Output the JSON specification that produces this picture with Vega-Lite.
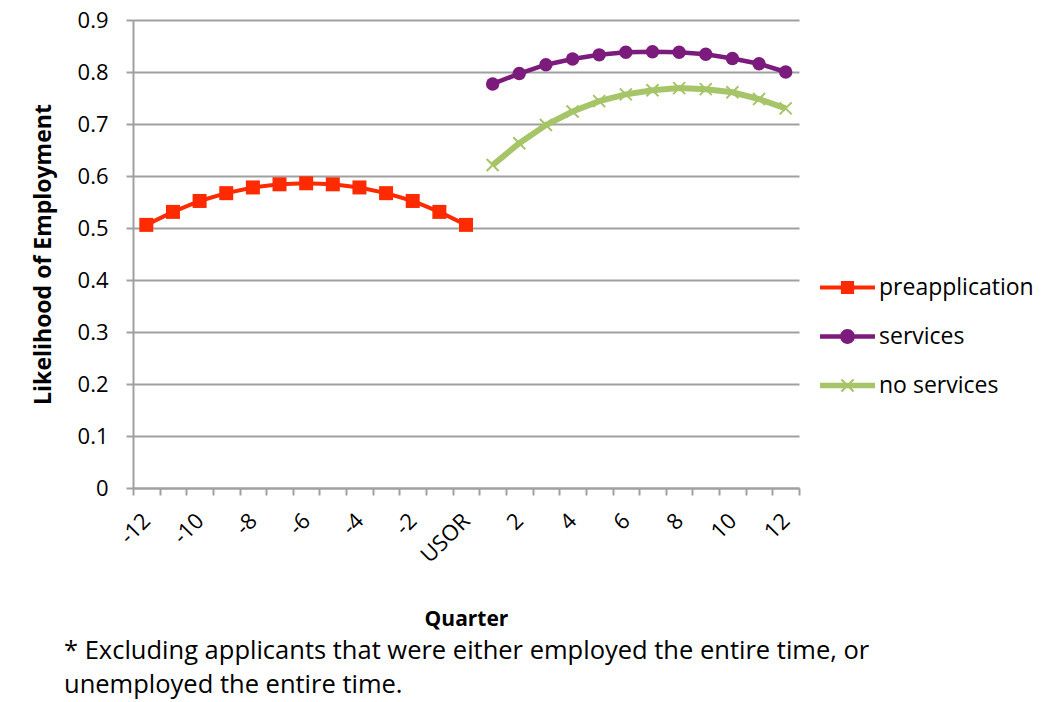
{
  "$schema": "https://vega.github.io/schema/vega-lite/v6.json",
  "width": 666,
  "height": 468,
  "autosize": {"type": "none"},
  "padding": {"left": 133, "top": 20, "right": 259, "bottom": 214},
  "background": "white",
  "config": {"font": "Open Sans", "view": {"stroke": null}},
  "title": {
    "text": ["* Excluding applicants that were either employed the entire time, or", "unemployed the entire time."],
    "orient": "bottom",
    "anchor": "start",
    "frame": "group",
    "fontSize": 25.5,
    "fontWeight": "normal",
    "color": "black",
    "lineHeight": 34,
    "dx": -69,
    "offset": 10
  },
  "data": {
    "values": [
      {"q": "-12", "series": "preapplication", "v": 0.506},
      {"q": "-11", "series": "preapplication", "v": 0.531},
      {"q": "-10", "series": "preapplication", "v": 0.552},
      {"q": "-9", "series": "preapplication", "v": 0.567},
      {"q": "-8", "series": "preapplication", "v": 0.578},
      {"q": "-7", "series": "preapplication", "v": 0.584},
      {"q": "-6", "series": "preapplication", "v": 0.586},
      {"q": "-5", "series": "preapplication", "v": 0.584},
      {"q": "-4", "series": "preapplication", "v": 0.578},
      {"q": "-3", "series": "preapplication", "v": 0.567},
      {"q": "-2", "series": "preapplication", "v": 0.552},
      {"q": "-1", "series": "preapplication", "v": 0.531},
      {"q": "USOR", "series": "preapplication", "v": 0.506},
      {"q": "1", "series": "services", "v": 0.777},
      {"q": "2", "series": "services", "v": 0.797},
      {"q": "3", "series": "services", "v": 0.814},
      {"q": "4", "series": "services", "v": 0.825},
      {"q": "5", "series": "services", "v": 0.833},
      {"q": "6", "series": "services", "v": 0.838},
      {"q": "7", "series": "services", "v": 0.839},
      {"q": "8", "series": "services", "v": 0.838},
      {"q": "9", "series": "services", "v": 0.834},
      {"q": "10", "series": "services", "v": 0.826},
      {"q": "11", "series": "services", "v": 0.816},
      {"q": "12", "series": "services", "v": 0.800},
      {"q": "1", "series": "no services", "v": 0.621},
      {"q": "2", "series": "no services", "v": 0.663},
      {"q": "3", "series": "no services", "v": 0.698},
      {"q": "4", "series": "no services", "v": 0.724},
      {"q": "5", "series": "no services", "v": 0.744},
      {"q": "6", "series": "no services", "v": 0.757},
      {"q": "7", "series": "no services", "v": 0.765},
      {"q": "8", "series": "no services", "v": 0.769},
      {"q": "9", "series": "no services", "v": 0.767},
      {"q": "10", "series": "no services", "v": 0.761},
      {"q": "11", "series": "no services", "v": 0.748},
      {"q": "12", "series": "no services", "v": 0.730}
    ]
  },
  "encoding": {
    "x": {
      "field": "q",
      "type": "ordinal",
      "scale": {
        "type": "band",
        "paddingInner": 0,
        "paddingOuter": 0,
        "domain": ["-12","-11","-10","-9","-8","-7","-6","-5","-4","-3","-2","-1","USOR","1","2","3","4","5","6","7","8","9","10","11","12"]
      },
      "axis": {
        "title": "Quarter",
        "titleFontSize": 21,
        "titleFontWeight": "bold",
        "titleColor": "black",
        "titleY": 137,
        "titleBaseline": "alphabetic",
        "grid": false,
        "tickBand": "extent",
        "tickSize": 7,
        "tickWidth": 2,
        "tickColor": "#A0A0A0",
        "domainColor": "#A0A0A0",
        "domainWidth": 2,
        "labelAngle": -45,
        "labelAlign": "right",
        "labelBaseline": "middle",
        "labelFontSize": 22,
        "labelColor": "black",
        "labelPadding": 22,
        "labelOffset": 0,
        "labelOverlap": false,
        "labelExpr": "indexof(['-12','-10','-8','-6','-4','-2','USOR','2','4','6','8','10','12'], datum.value) >= 0 ? datum.value : ''"
      }
    },
    "y": {
      "field": "v",
      "type": "quantitative",
      "scale": {"domain": [0, 0.9], "nice": false},
      "axis": {
        "title": "Likelihood of Employment",
        "titleFontSize": 23,
        "titleFontWeight": "bold",
        "titleColor": "black",
        "titleX": -83,
        "titleY": 234,
        "titleBaseline": "alphabetic",
        "values": [0, 0.1, 0.2, 0.3, 0.4, 0.5, 0.6, 0.7, 0.8, 0.9],
        "labelExpr": "datum.value == 0 ? '0' : format(datum.value, '.1f')",
        "labelFontSize": 22,
        "labelColor": "black",
        "labelPadding": 18,
        "tickSize": 7,
        "tickWidth": 2,
        "tickColor": "#A0A0A0",
        "domainColor": "#A0A0A0",
        "domainWidth": 2,
        "grid": true,
        "gridColor": "#A0A0A0",
        "gridWidth": 2
      }
    }
  },
  "layer": [
    {
      "transform": [{"filter": "datum.series == 'preapplication'"}],
      "mark": {"type": "line", "color": "#FF2A00", "strokeWidth": 4}
    },
    {
      "transform": [{"filter": "datum.series == 'services'"}],
      "mark": {"type": "line", "color": "#7B1C7C", "strokeWidth": 4.5}
    },
    {
      "transform": [{"filter": "datum.series == 'no services'"}],
      "mark": {"type": "line", "color": "#A6C468", "strokeWidth": 6}
    },
    {
      "transform": [{"filter": "datum.series == 'preapplication'"}],
      "mark": {"type": "point", "shape": "square", "filled": true, "size": 196, "color": "#FF2A00", "opacity": 1}
    },
    {
      "transform": [{"filter": "datum.series == 'services'"}],
      "mark": {"type": "point", "shape": "circle", "filled": true, "size": 180, "color": "#7B1C7C", "opacity": 1}
    },
    {
      "transform": [{"filter": "datum.series == 'no services'"}],
      "mark": {"type": "point", "shape": "M-1,-1L1,1M-1,1L1,-1", "filled": false, "size": 144, "color": "#A6C468", "strokeWidth": 2, "opacity": 1}
    },
    {
      "transform": [{"filter": "datum.v < 0"}],
      "mark": {"type": "point", "filled": true, "size": 3025, "opacity": 1},
      "encoding": {
        "color": {
          "field": "series",
          "type": "nominal",
          "scale": {"domain": ["preapplication", "services", "no services"], "range": ["#FF2A00", "#7B1C7C", "#A6C468"]},
          "legend": {
            "title": null,
            "orient": "none",
            "legendX": 687,
            "legendY": 240,
            "symbolSize": 3025,
            "symbolStrokeWidth": 0,
            "labelFontSize": 23,
            "labelColor": "black",
            "labelOffset": 4,
            "rowPadding": 9
          }
        },
        "shape": {
          "field": "series",
          "type": "nominal",
          "scale": {
            "domain": ["preapplication", "services", "no services"],
            "range": [
              "M-1,-0.07H1V0.07H-1Z M-0.24,-0.24H0.24V0.24H-0.24Z",
              "M-1,-0.08H1V0.08H-1Z M-0.27,0a0.27,0.27 0 1,1 0.54,0a0.27,0.27 0 1,1 -0.54,0Z",
              "M-1,-0.1H1V0.1H-1Z M-0.192,-0.248L0.248,0.192L0.192,0.248L-0.248,-0.192Z M-0.248,0.192L0.192,-0.248L0.248,-0.192L-0.192,0.248Z"
            ]
          },
          "legend": {
            "title": null,
            "orient": "none",
            "legendX": 687,
            "legendY": 240,
            "symbolSize": 3025,
            "symbolStrokeWidth": 0,
            "labelFontSize": 23,
            "labelColor": "black",
            "labelOffset": 4,
            "rowPadding": 9
          }
        }
      }
    }
  ]
}
